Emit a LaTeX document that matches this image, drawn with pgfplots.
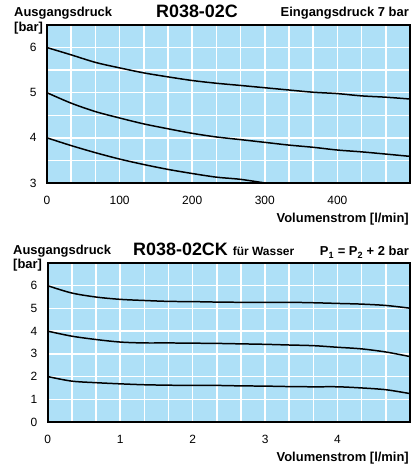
\documentclass[border=0pt]{standalone}
\usepackage{fontspec}
\setmainfont{Liberation Sans}
\usepackage{pgfplots}
\pgfplotsset{compat=1.18}

\definecolor{chartblue}{HTML}{AEE0F7}

\pgfplotsset{
  druck/.style={
    scale only axis,
    anchor=south west,
    axis background/.style={fill=chartblue},
    axis line style={line width=1.8pt},
    grid=major,
    major grid style={white, line width=1.5pt},
    major tick length=0pt,
    tick label style={font=\fontsize{12}{14}\selectfont},
    /pgf/number format/assume math mode=true,
    xticklabel style={yshift=-10bp},
    yticklabel style={xshift=-7bp},
    clip=true,
  },
  kurve/.style={black, line width=1.5pt, no marks, smooth},
}

\begin{document}
\begin{tikzpicture}[x=1bp,y=1bp]
\path[use as bounding box] (0,0) rectangle (414,472);

% top chart
\begin{axis}[druck, at={(47bp,289bp)}, width=363bp, height=158bp,
  xmin=0, xmax=500, ymin=3, ymax=6.5,
  xtick={0,33.333,66.667,100,133.333,166.667,200,233.333,266.667,300,333.333,366.667,400,433.333,466.667,500},
  xticklabels={0,,,100,,,200,,,300,,,400,,,},
  ytick={3,3.5,4,4.5,5,5.5,6,6.5},
  yticklabels={3,,4,,5,,6,}]
\addplot[kurve] coordinates {(0,6.00) (33,5.84) (67,5.67) (100,5.55) (133,5.44) (167,5.35)
  (200,5.27) (233,5.21) (267,5.16) (300,5.11) (333,5.06) (367,5.01) (400,4.98)
  (433,4.93) (467,4.90) (500,4.86)};
\addplot[kurve] coordinates {(0,5.00) (33,4.77) (67,4.58) (100,4.44) (133,4.31) (167,4.20)
  (200,4.10) (233,4.02) (267,3.96) (300,3.90) (333,3.84) (367,3.79) (400,3.73)
  (433,3.69) (467,3.64) (500,3.59)};
\addplot[kurve] coordinates {(0,4.00) (33,3.83) (67,3.67) (100,3.53) (133,3.41) (167,3.30)
  (200,3.21) (233,3.13) (267,3.08) (300,3.00)};
\end{axis}

% bottom chart
\begin{axis}[druck, at={(47.7bp,50bp)}, width=362.3bp, height=159bp,
  xmin=0, xmax=5, ymin=0, ymax=7,
  xtick={0,0.3333,0.6667,1,1.3333,1.6667,2,2.3333,2.6667,3,3.3333,3.6667,4,4.3333,4.6667,5},
  xticklabels={0,,,1,,,2,,,3,,,4,,,},
  ytick={0,1,...,7},
  yticklabels={0,1,2,3,4,5,6,}]
\addplot[kurve] coordinates {(0,6.00) (0.33,5.68) (0.67,5.50) (1,5.40) (1.33,5.35) (1.67,5.31)
  (2,5.30) (2.33,5.28) (2.67,5.27) (3,5.27) (3.33,5.27) (3.67,5.25) (4,5.22)
  (4.33,5.19) (4.67,5.13) (5,5.01)};
\addplot[kurve] coordinates {(0,4.00) (0.33,3.78) (0.67,3.63) (1,3.52) (1.33,3.48) (1.67,3.48)
  (2,3.47) (2.33,3.46) (2.67,3.44) (3,3.42) (3.33,3.39) (3.67,3.36) (4,3.29)
  (4.33,3.22) (4.67,3.08) (5,2.88)};
\addplot[kurve] coordinates {(0,2.00) (0.33,1.80) (0.67,1.73) (1,1.68) (1.33,1.64) (1.67,1.62)
  (2,1.61) (2.33,1.61) (2.67,1.59) (3,1.58) (3.33,1.56) (3.67,1.55) (4,1.55)
  (4.33,1.50) (4.67,1.42) (5,1.25)};
\end{axis}

% labels, top
\node[anchor=base west, inner sep=0, font=\bfseries\fontsize{13}{15}\selectfont] at (14,455) {Ausgangsdruck};
\node[anchor=base west, inner sep=0, font=\bfseries\fontsize{13}{15}\selectfont] at (14,440) {[bar]};
\node[anchor=base, inner sep=0, font=\bfseries\fontsize{18}{20}\selectfont] at (197,454) {R038-02C};
\node[anchor=base east, inner sep=0, font=\bfseries\fontsize{13}{15}\selectfont] at (409,455) {Eingangsdruck 7 bar};
\node[anchor=base east, inner sep=0, font=\bfseries\fontsize{13}{15}\selectfont] at (409,249) {Volumenstrom [l/min]};

% labels, bottom
\node[anchor=base west, inner sep=0, font=\bfseries\fontsize{13}{15}\selectfont] at (13,217) {Ausgangsdruck};
\node[anchor=base west, inner sep=0, font=\bfseries\fontsize{13}{15}\selectfont] at (13,203) {[bar]};
\node[anchor=base west, inner sep=0] at (133,216) {\bfseries\fontsize{18}{20}\selectfont R038-02CK\ \fontsize{12}{14}\selectfont für Wasser};
\node[anchor=base east, inner sep=0, font=\bfseries\fontsize{13}{15}\selectfont] at (409,216) {P$_{\mathbf 1}$ = P$_{\mathbf 2}$ + 2 bar};
\node[anchor=base east, inner sep=0, font=\bfseries\fontsize{13}{15}\selectfont] at (409,10) {Volumenstrom [l/min]};
\end{tikzpicture}
\end{document}
